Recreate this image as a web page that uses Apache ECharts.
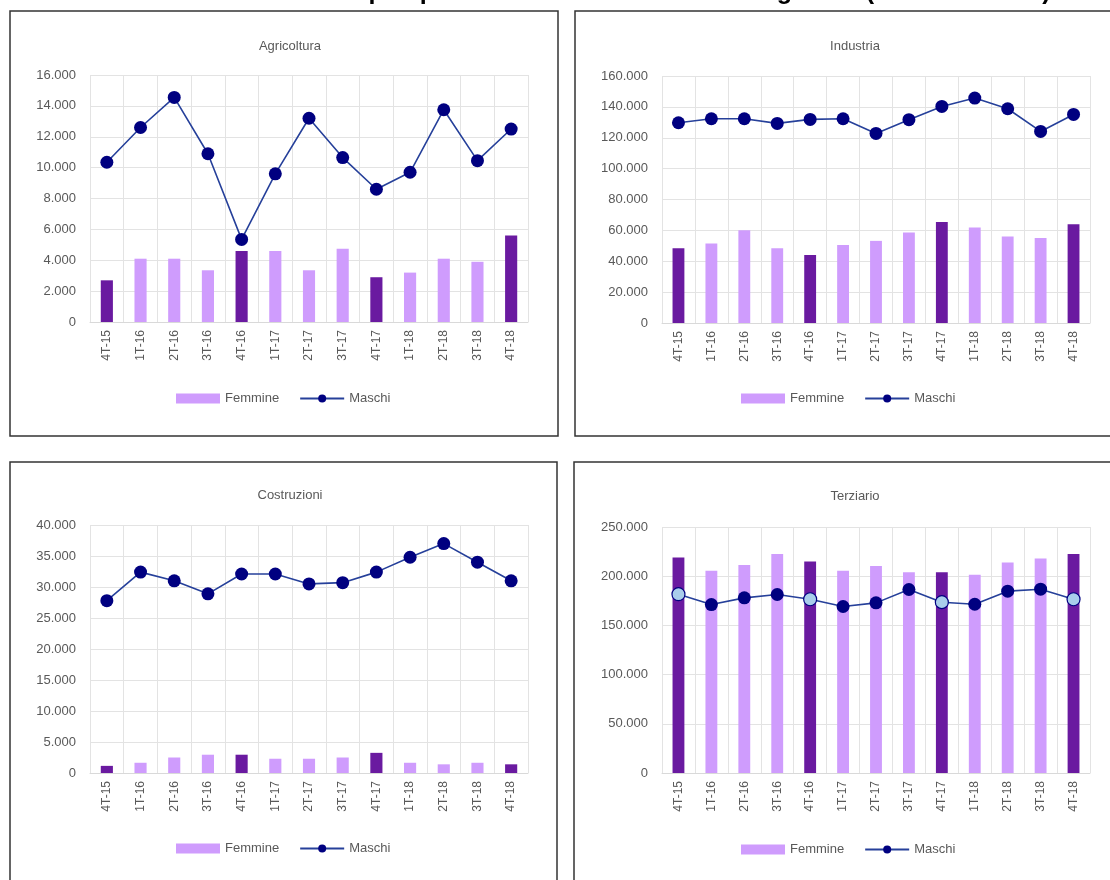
<!DOCTYPE html>
<html>
<head>
<meta charset="utf-8">
<script src="https://cdn.jsdelivr.net/npm/echarts@6/dist/echarts.min.js"></script>
<style>
  html, body { margin: 0; padding: 0; background: #fff; }
  #plot { width: 1110px; height: 880px; }
</style>
</head>
<body>
<div id="plot"></div>
<script>
const quarters = ['4T-15', '1T-16', '2T-16', '3T-16', '4T-16', '1T-17', '2T-17', '3T-17', '4T-17', '1T-18', '2T-18', '3T-18', '4T-18'];

const agriFemmine = [2700, 4100, 4100, 3350, 4600, 4600, 3350, 4750, 2900, 3200, 4100, 3900, 5600];
const agriMaschi = [10350, 12600, 14550, 10900, 5350, 9600, 13200, 10650, 8600, 9700, 13750, 10450, 12500];

const indFemmine = [48400, 51500, 60100, 48400, 44100, 50600, 53200, 58600, 65500, 61800, 56000, 55100, 64000];
const indMaschi = [129700, 132300, 132300, 129300, 131900, 132300, 122800, 131700, 140300, 145700, 138800, 124100, 135100];

const cosFemmine = [1150, 1650, 2500, 2950, 2950, 2300, 2300, 2500, 3250, 1650, 1400, 1650, 1400];
const cosMaschi = [27800, 32400, 31000, 28900, 32100, 32100, 30500, 30700, 32400, 34800, 37000, 34000, 31000];

const terFemmine = [219000, 205500, 211500, 222500, 215000, 205500, 210300, 204000, 204000, 201400, 214000, 218000, 222500];
const terMaschi = [181700, 171200, 178000, 181400, 176600, 169200, 172900, 186500, 173600, 171500, 184800, 186800, 176600];

const panelTitles = ['Agricoltura', 'Industria', 'Costruzioni', 'Terziario'];
const yMax = [16000, 160000, 40000, 250000];
const yStep = [2000, 20000, 5000, 50000];

const chartDom = document.getElementById('plot');
const myChart = echarts.init(chartDom);

const LIGHT = '#CF9CFD';
const DARK = '#6A1AA0';
const NAVY = '#000080';
const LINE = '#26409A';
const TXT = '#595959';

// plot areas, one per panel
const grids = [
    { left: 90, top: 75, width: 438, height: 247 },
    { left: 662, top: 76, width: 428, height: 247 },
    { left: 90, top: 525, width: 438, height: 248 },
    { left: 662, top: 527, width: 428, height: 246 }
];
const centers = [285, 850, 285, 850];
const titleTops = [35, 35, 484, 485];
const legendTops = [387, 387, 837, 838];

const fmt = v => String(v).replace(/\B(?=(\d{3})+(?!\d))/g, '.');

const femmine = [agriFemmine, indFemmine, cosFemmine, terFemmine];
const maschi = [agriMaschi, indMaschi, cosMaschi, terMaschi];

const barData = vals => vals.map((v, i) => ({
    value: v,
    itemStyle: { color: quarters[i].startsWith('4T') ? DARK : LIGHT }
}));

const lineData = (vals, k) => vals.map((v, i) => {
    if (k === 3 && quarters[i].startsWith('4T')) {
        return { value: v, itemStyle: { color: '#A9CDEB', borderColor: NAVY, borderWidth: 1.2 } };
    }
    return v;
});

const series = [];
for (let k = 0; k < 4; k++) {
    series.push({
        name: 'Femmine',
        type: 'bar',
        xAxisIndex: k,
        yAxisIndex: k,
        barWidth: '36%',
        itemStyle: { color: LIGHT },
        data: barData(femmine[k])
    });
    series.push({
        name: 'Maschi',
        type: 'line',
        xAxisIndex: k,
        yAxisIndex: k,
        symbol: 'circle',
        symbolSize: 13,
        lineStyle: { color: LINE, width: 1.6 },
        itemStyle: { color: NAVY },
        data: lineData(maschi[k], k)
    });
}

const option = {
    animation: false,
    backgroundColor: '#fff',
    title: panelTitles.map((t, k) => ({
        text: t,
        left: centers[k],
        top: titleTops[k],
        textAlign: 'center',
        textStyle: { color: TXT, fontSize: 13, fontWeight: 'normal', fontFamily: 'Liberation Sans, Arial' }
    })),
    legend: [0, 1, 2, 3].map(k => ({
        left: centers[k] - 114,
        top: legendTops[k],
        seriesIndex: [2 * k, 2 * k + 1],
        itemWidth: 44,
        itemHeight: 10,
        itemGap: 20,
        textStyle: { color: TXT, fontSize: 13, fontFamily: 'Liberation Sans, Arial' },
        data: [
            { name: 'Femmine', icon: 'rect', itemStyle: { color: LIGHT } },
            { name: 'Maschi' }
        ]
    })),
    grid: grids,
    xAxis: grids.map((g, k) => ({
        type: 'category',
        gridIndex: k,
        data: quarters,
        boundaryGap: true,
        axisTick: { show: false },
        axisLine: { lineStyle: { color: '#d9d9d9' } },
        splitLine: { show: true, lineStyle: { color: '#e3e3e3' } },
        axisLabel: { rotate: 90, color: TXT, fontSize: 12, margin: 8, fontFamily: 'Liberation Sans, Arial' }
    })),
    yAxis: grids.map((g, k) => ({
        type: 'value',
        gridIndex: k,
        min: 0,
        max: yMax[k],
        interval: yStep[k],
        axisLine: { show: false },
        axisTick: { show: false },
        splitLine: { lineStyle: { color: '#e3e3e3' } },
        axisLabel: { color: TXT, fontSize: 13, margin: 14, formatter: fmt, fontFamily: 'Liberation Sans, Arial' }
    })),
    graphic: [
        { type: 'rect', shape: { x: 10, y: 11, width: 548, height: 425 }, style: { fill: 'none', stroke: '#333', lineWidth: 1.5 }, silent: true },
        { type: 'rect', shape: { x: 575, y: 11, width: 560, height: 425 }, style: { fill: 'none', stroke: '#333', lineWidth: 1.5 }, silent: true },
        { type: 'rect', shape: { x: 10, y: 462, width: 547, height: 440 }, style: { fill: 'none', stroke: '#333', lineWidth: 1.5 }, silent: true },
        { type: 'rect', shape: { x: 574, y: 462, width: 560, height: 440 }, style: { fill: 'none', stroke: '#333', lineWidth: 1.5 }, silent: true },
        {
            type: 'text',
            left: 92,
            top: -20,
            style: {
                text: 'Andamento totale occupati per macro-settore di attività e genere (valori assoluti)',
                font: 'bold 25px Liberation Sans, Arial',
                fill: '#000'
            },
            silent: true
        }
    ],
    series: series
};

myChart.setOption(option);
window.addEventListener('resize', () => myChart.resize());
</script>
</body>
</html>
